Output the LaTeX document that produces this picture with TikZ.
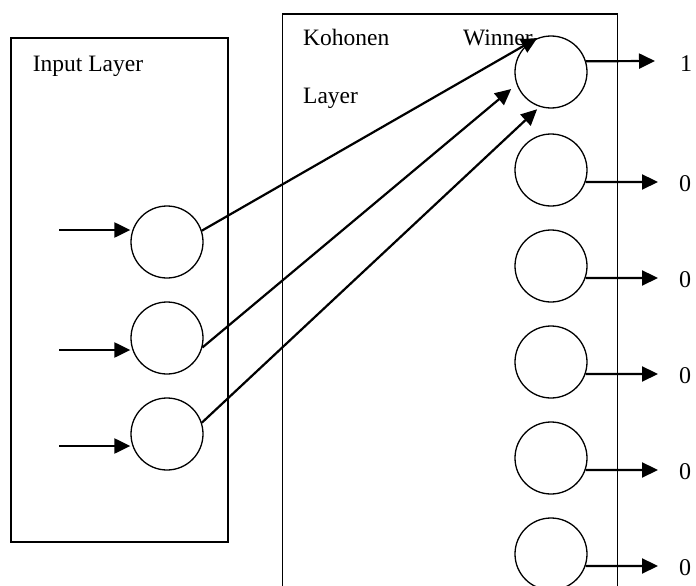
\documentclass[tikz,border=0pt]{standalone}
\usepackage{fontspec}
\setmainfont{Liberation Serif}
\usetikzlibrary{arrows.meta}
\begin{document}
\begin{tikzpicture}[x=1pt,y=-1pt,
  neuron/.style={draw,circle,line width=1.3pt,minimum size=72pt,inner sep=0pt},
  frame/.style={draw,line width=1.5pt},
  arr/.style={line width=2.2pt,-{Triangle[length=16pt,width=15pt]}},
  lbl/.style={inner sep=0pt,anchor=base west,font=\fontsize{23.5}{28}\selectfont},
  outlbl/.style={inner sep=0pt,font=\fontsize{24}{28}\selectfont}]
\useasboundingbox (0,0) rectangle (696,586);
\fill[white] (0,0) rectangle (696,586);
% boxes
\draw[frame] (11,38) rectangle (228,542);
\draw[frame] (282.5,586) -- (282.5,14) -- (617.7,14) -- (617.7,586);
% texts
\node[lbl] (tin) at (32.7,72) {Input Layer};
\node[lbl] (tko) at (303,46) {Kohonen};
\node[lbl] (tla) at (303,103) {Layer};
\node[lbl] (twi) at (463,46) {Winner};
% input neurons
\node[neuron] (i1) at (167,242) {};
\node[neuron] (i2) at (167,338) {};
\node[neuron] (i3) at (167,434) {};
% kohonen neurons
\node[neuron] (k1) at (551,72) {};
\node[neuron] (k2) at (551,170) {};
\node[neuron] (k3) at (551,266) {};
\node[neuron] (k4) at (551,362) {};
\node[neuron] (k5) at (551,458) {};
\node[neuron] (k6) at (551,554) {};
% input arrows
\coordinate (a1) at (59,230);
\coordinate (a2) at (59,350);
\coordinate (a3) at (59,446);
\draw[arr] (a1) -- (a1 -| i1.west);
\draw[arr] (a2) -- (a2 -| i2.west);
\draw[arr] (a3) -- (a3 -| i3.west);
% connections to winner
\draw[arr] (i1.18) -- (k1.112);
\draw[arr,shorten >=7pt] (i2.-15) -- (k1.200);
\draw[arr,shorten >=3.5pt] (i3.18) -- (k1.252.5);
% outputs
\coordinate (o1) at (655,61);
\coordinate (o2) at (658,182);
\coordinate (o3) at (658,278);
\coordinate (o4) at (658,374);
\coordinate (o5) at (658,470);
\coordinate (o6) at (658,566);
\draw[arr] (k1.17.8) -- (o1);
\draw[arr] (k2.-19.47) -- (o2);
\draw[arr] (k3.-19.47) -- (o3);
\draw[arr] (k4.-19.47) -- (o4);
\draw[arr] (k5.-19.47) -- (o5);
\draw[arr] (k6.-19.47) -- (o6);
\node[outlbl] (l1) at (686,64) {1};
\node[outlbl] (l2) at (685,184) {0};
\node[outlbl] (l3) at (685,280) {0};
\node[outlbl] (l4) at (685,376) {0};
\node[outlbl] (l5) at (685,472) {0};
\node[outlbl] (l6) at (685,568) {0};
\end{tikzpicture}
\end{document}
